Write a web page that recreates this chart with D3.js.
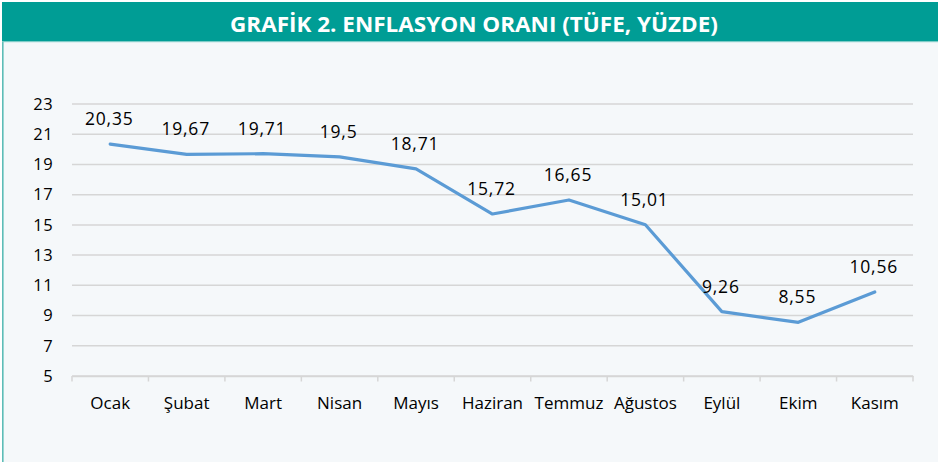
<!DOCTYPE html>
<html>
<head>
<meta charset="utf-8">
<script src="https://cdn.jsdelivr.net/npm/d3@7"></script>
<style>
html,body{margin:0;padding:0;background:#fff;}
svg{display:block;}
</style>
</head>
<body>
<svg id="chart" width="938" height="462"></svg>
<script>
const title = "GRAFİK 2. ENFLASYON ORANI (TÜFE, YÜZDE)";
const categories = ["Ocak","Şubat","Mart","Nisan","Mayıs","Haziran","Temmuz","Ağustos","Eylül","Ekim","Kasım"];
const values = [20.35,19.67,19.71,19.5,18.71,15.72,16.65,15.01,9.26,8.55,10.56];
const labels = ["20,35","19,67","19,71","19,5","18,71","15,72","16,65","15,01","9,26","8,55","10,56"];
const yTicks = [5,7,9,11,13,15,17,19,21,23];

const svg = d3.select("#chart");
const W = 938, H = 462;
const font = "'Open Sans', sans-serif";

// panel background
svg.append("rect").attr("x",2).attr("y",2).attr("width",W-2).attr("height",H-2).attr("fill","#F5F8FA");
// left border
svg.append("rect").attr("x",2).attr("y",2).attr("width",1.6).attr("height",H-2).attr("fill","#5DBDB7");
// header
svg.append("rect").attr("x",2).attr("y",2).attr("width",W-2).attr("height",39).attr("fill","#009D95");
svg.append("rect").attr("x",2).attr("y",41).attr("width",W-2).attr("height",1.2).attr("fill","#7FCCC7");
svg.append("text").attr("x",474).attr("y",32.3).attr("text-anchor","middle")
  .attr("font-family",font).attr("font-weight","bold").attr("font-size",20.5)
  .attr("fill","#fff").attr("textLength",488).attr("lengthAdjust","spacingAndGlyphs").text(title);

const x = d3.scaleBand().domain(categories).range([72,913]);
const y = d3.scaleLinear().domain([5,23]).range([376,104]);

// grid
svg.append("g").selectAll("line").data(yTicks).join("line")
  .attr("x1",72).attr("x2",913).attr("y1",d=>y(d)).attr("y2",d=>y(d))
  .attr("stroke","#D6D6D6").attr("stroke-width",1.5);

// y labels
svg.append("g").selectAll("text").data(yTicks).join("text")
  .attr("x",53).attr("y",d=>y(d)+5.8).attr("text-anchor","end")
  .attr("font-family",font).attr("font-size",16.5).attr("letter-spacing",0.4).attr("fill","#000").text(d=>d);

// x axis
const xAxis = d3.axisBottom(x).tickSize(0).tickSizeOuter(0);
const gx = svg.append("g").attr("transform","translate(0,376)").call(xAxis);
gx.select(".domain").attr("stroke","#D6D6D6").attr("stroke-width",1.5);
gx.selectAll("text").attr("font-family",font).attr("font-size",17).attr("fill","#000").attr("dy",null).attr("y",32.5);
// boundary ticks
const bounds = categories.map(c=>x(c)).concat([x.range()[1]]);
svg.append("g").selectAll("line").data(bounds).join("line")
  .attr("x1",d=>d).attr("x2",d=>d).attr("y1",376).attr("y2",381.5)
  .attr("stroke","#D6D6D6").attr("stroke-width",1.5);

// line
const cx = d=>x(d)+x.bandwidth()/2;
const line = d3.line().x((d,i)=>cx(categories[i])).y(d=>y(d));
svg.append("path").datum(values).attr("d",line).attr("fill","none")
  .attr("stroke","#5B9BD5").attr("stroke-width",3.2).attr("stroke-linejoin","round").attr("stroke-linecap","round");

// data labels
svg.append("g").selectAll("text").data(values).join("text")
  .attr("x",(d,i)=>cx(categories[i])-1).attr("y",d=>y(d)-19).attr("text-anchor","middle")
  .attr("font-family",font).attr("font-size",17.5).attr("letter-spacing",0.8).attr("fill","#000")
  .text((d,i)=>labels[i]);
</script>
</body>
</html>
